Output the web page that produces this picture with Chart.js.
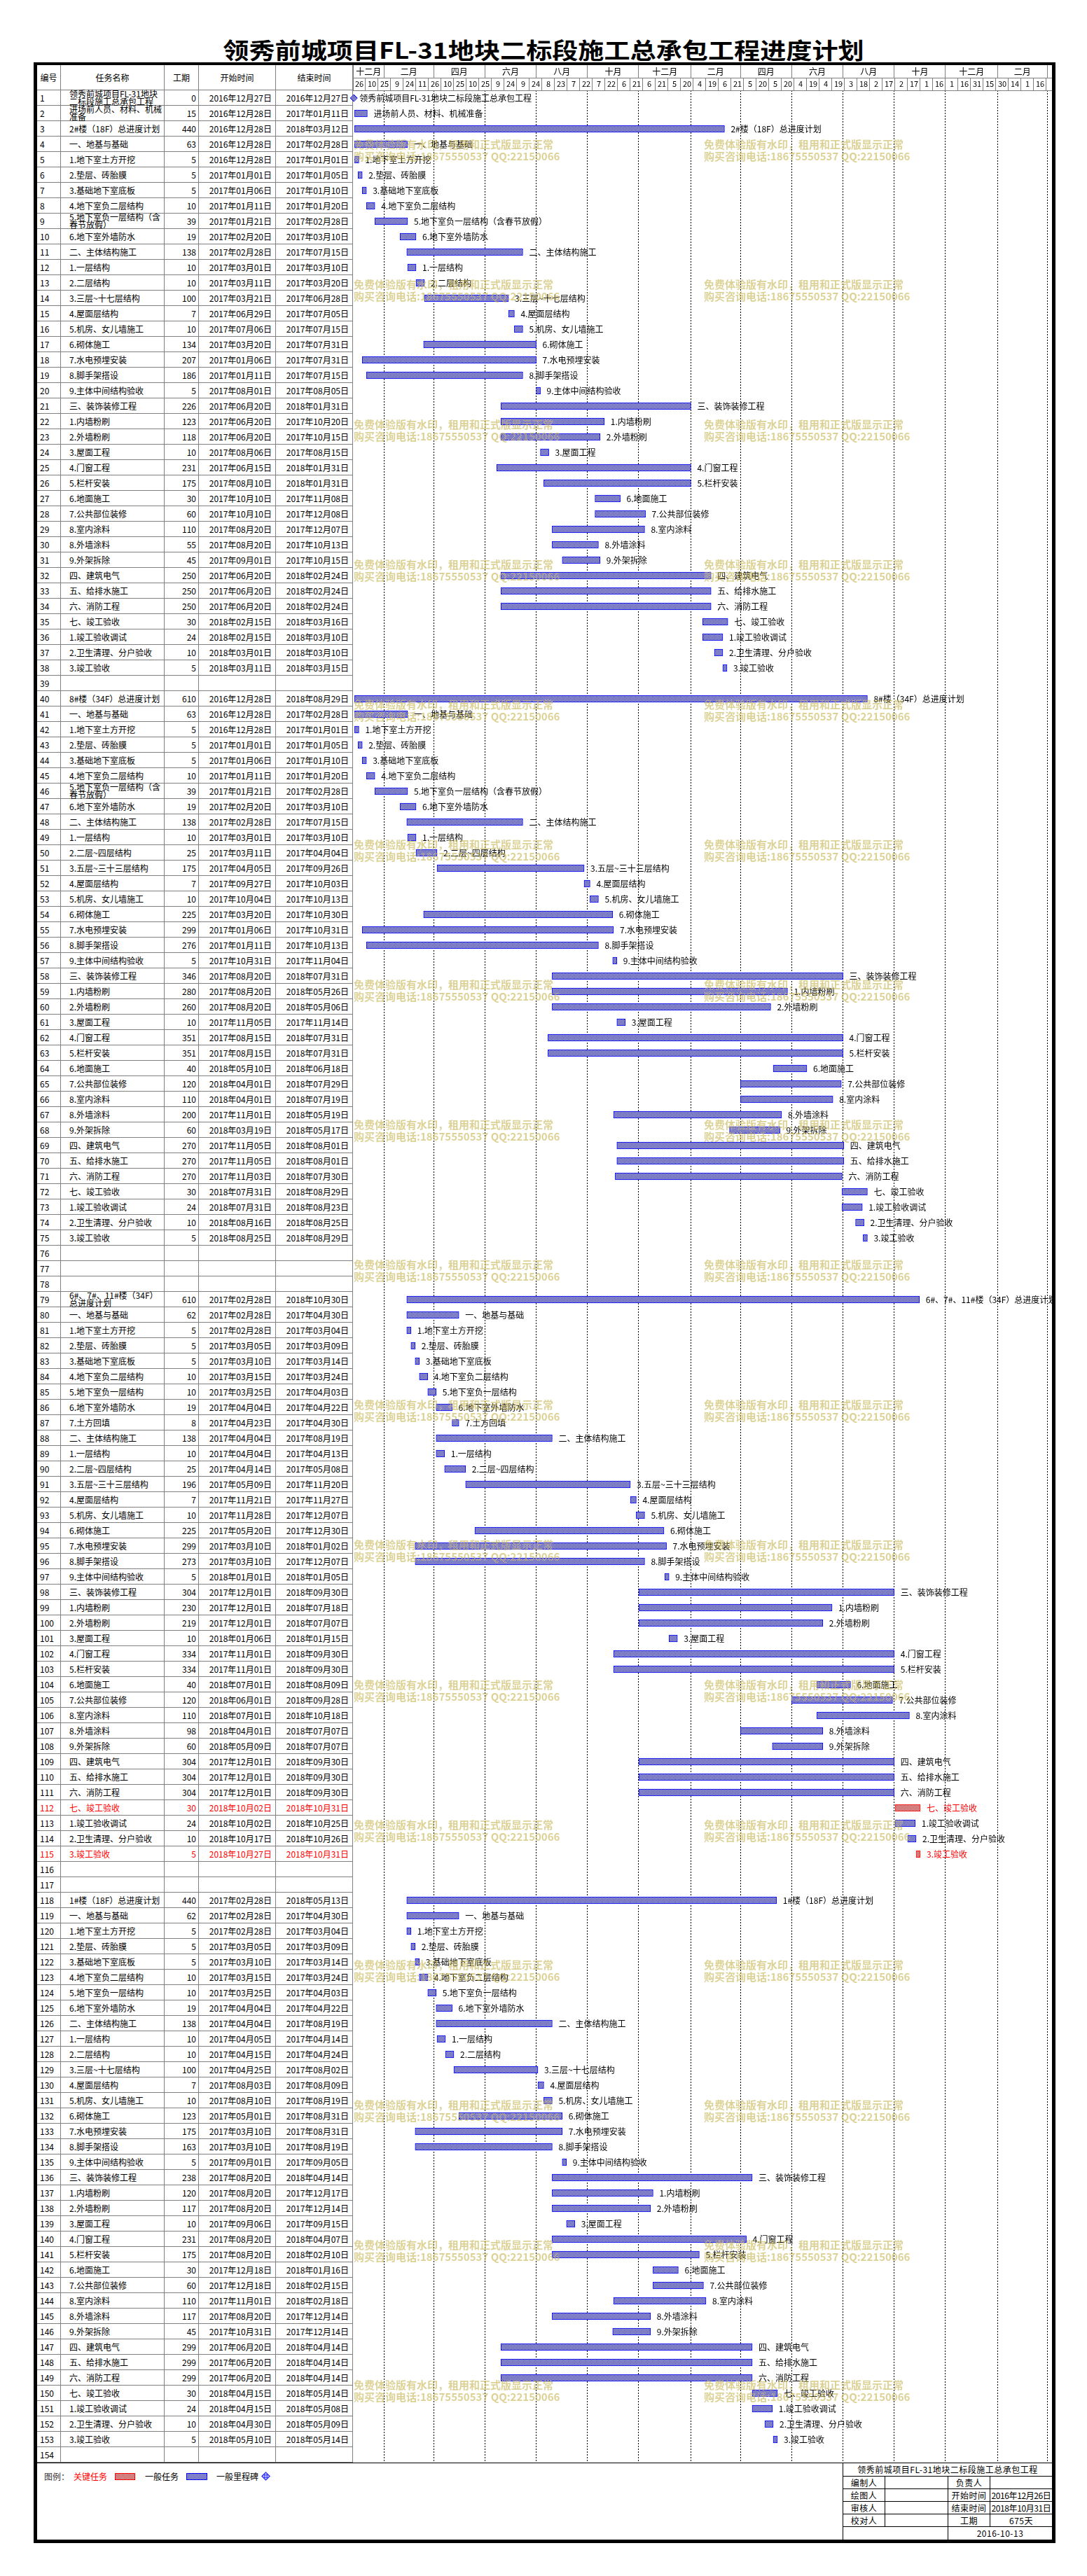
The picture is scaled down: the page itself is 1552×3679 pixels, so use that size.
<!DOCTYPE html>
<html>
<head>
<meta charset="utf-8">
<title>领秀前城项目FL-31地块二标段施工总承包工程进度计划</title>
<script src="https://cdn.jsdelivr.net/npm/chart.js@4.4.1/dist/chart.umd.min.js"></script>
<style>
  body { margin: 0; background: #fff; }
  #page { position: relative; width: 1552px; height: 3679px; overflow: hidden; font-family: "Noto Sans CJK SC", sans-serif; color: #000; }
  #title { position: absolute; left: 0; top: 50px; width: 1552px; text-align: center; font-size: 32px; font-weight: 700; line-height: 40px; transform: scaleX(1.16); }
  #frame { position: absolute; left: 48px; top: 89px; width: 1459px; height: 3543px; box-sizing: border-box; border: 5px solid #000; border-top-width: 4px; }
  #tbl { position: absolute; left: 53px; top: 93px; width: 451px; font-size: 12px; }
  .row { position: absolute; left: 0; width: 451px; height: 22px; box-sizing: border-box; border-bottom: 1px solid #808080; display: flex; }
  .row > div { box-sizing: border-box; height: 100%; border-right: 1px solid #808080; line-height: 21px; white-space: nowrap; }
  .row.head { top: 0; height: 36px; }
  .row.head > div { text-align: center; line-height: 35px; padding: 0; }
  .c0 { width: 34px; padding-left: 4px; }
  .c1 { width: 148px; padding-left: 12px; }
  .c2 { width: 49px; padding-right: 3px; text-align: right; }
  .c3, .c4 { width: 110px; padding-right: 5px; text-align: right; }
  .crit { color: #f00; }
  .c1 .wrap { display: inline-block; white-space: normal; width: 134px; line-height: 10.5px; vertical-align: top; }
  #gantt { position: absolute; left: 494px; top: 93px; }
  .wm { position: absolute; font-size: 15px; font-weight: 700; line-height: 17px; color: rgba(196,180,80,0.6); white-space: nowrap; pointer-events: none; }
  #foot { position: absolute; left: 53px; top: 3517px; width: 1449px; height: 110px; box-sizing: border-box; border-top: 1px solid #000; }
  .lg { position: absolute; top: 3530px; font-size: 12px; line-height: 14px; white-space: nowrap; }
  .sw { position: absolute; top: 3532px; height: 10px; box-sizing: border-box; }
  #info { position: absolute; left: 1203px; top: 3518px; width: 299px; height: 109px; border-left: 1px solid #000; font-size: 12px; }
  #info div { position: absolute; box-sizing: border-box; border-right: 1px solid #000; border-bottom: 1px solid #000; text-align: center; white-space: nowrap; letter-spacing: 0.5px; }
</style>
</head>
<body>
<div id="page">
  <div id="title">领秀前城项目FL-31地块二标段施工总承包工程进度计划</div>
  <div id="frame"></div>
  <div id="tbl"></div>
  <canvas id="gantt" width="1008" height="3424"></canvas>
  <div id="wm"></div>
  <div id="foot"></div>
  <div class="lg" style="left:63px;color:#333">图例：</div>
  <div class="lg" style="left:105px;color:#f00">关键任务</div>
  <div class="sw" style="left:164px;width:29px;border:1px solid #f00;background:repeating-conic-gradient(#f00 0 25%, #fff 0 50%) 0 0/2px 2px"></div>
  <div class="lg" style="left:207px">一般任务</div>
  <div class="sw" style="left:266px;width:30px;border:1px solid #00f;background:repeating-conic-gradient(#00f 0 25%, #fff 0 50%) 0 0/2px 2px"></div>
  <div class="lg" style="left:309px">一般里程碑</div>
  <div style="position:absolute;left:375px;top:3532px;width:9px;height:9px;box-sizing:border-box;border:1px solid #00f;transform:rotate(45deg);background:repeating-conic-gradient(#00f 0 25%, #fff 0 50%) 0 0/2px 2px"></div>
  <div id="info">
    <div style="left:0;top:0;width:299px;height:19px;line-height:18px">领秀前城项目FL-31地块二标段施工总承包工程</div>
    <div style="left:0;top:19px;width:60px;height:18px;line-height:17px">编制人</div>
    <div style="left:60px;top:19px;width:90px;height:18px"></div>
    <div style="left:150px;top:19px;width:60px;height:18px;line-height:17px">负责人</div>
    <div style="left:210px;top:19px;width:89px;height:18px"></div>
    <div style="left:0;top:37px;width:60px;height:18px;line-height:17px">绘图人</div>
    <div style="left:60px;top:37px;width:90px;height:18px"></div>
    <div style="left:150px;top:37px;width:60px;height:18px;line-height:17px">开始时间</div>
    <div style="left:210px;top:37px;width:89px;height:18px;line-height:17px;letter-spacing:-0.4px">2016年12月26日</div>
    <div style="left:0;top:55px;width:60px;height:18px;line-height:17px">审核人</div>
    <div style="left:60px;top:55px;width:90px;height:18px"></div>
    <div style="left:150px;top:55px;width:60px;height:18px;line-height:17px">结束时间</div>
    <div style="left:210px;top:55px;width:89px;height:18px;line-height:17px;letter-spacing:-0.4px">2018年10月31日</div>
    <div style="left:0;top:73px;width:60px;height:18px;line-height:17px">校对人</div>
    <div style="left:60px;top:73px;width:90px;height:18px"></div>
    <div style="left:150px;top:73px;width:60px;height:18px;line-height:17px">工期</div>
    <div style="left:210px;top:73px;width:89px;height:18px;line-height:17px">675天</div>
    <div style="left:0;top:91px;width:150px;height:18px;border-bottom:0"></div>
    <div style="left:150px;top:91px;width:149px;height:18px;line-height:17px;border-bottom:0">2016-10-13</div>
  </div>
</div>

<script>
// ---- task table ----

const taskNames = [
  '领秀前城项目FL-31地块二标段施工总承包工程', '进场前人员、材料、机械准备', '2#楼（18F）总进度计划', '一、地基与基础', '1.地下室土方开挖',
  '2.垫层、砖胎膜', '3.基础地下室底板', '4.地下室负二层结构', '5.地下室负一层结构（含春节放假）', '6.地下室外墙防水',
  '二、主体结构施工', '1.一层结构', '2.二层结构', '3.三层~十七层结构', '4.屋面层结构',
  '5.机房、女儿墙施工', '6.砌体施工', '7.水电预埋安装', '8.脚手架搭设', '9.主体中间结构验收',
  '三、装饰装修工程', '1.内墙粉刷', '2.外墙粉刷', '3.屋面工程', '4.门窗工程',
  '5.栏杆安装', '6.地面施工', '7.公共部位装修', '8.室内涂料', '8.外墙涂料',
  '9.外架拆除', '四、建筑电气', '五、给排水施工', '六、消防工程', '七、竣工验收',
  '1.竣工验收调试', '2.卫生清理、分户验收', '3.竣工验收', '', '8#楼（34F）总进度计划',
  '一、地基与基础', '1.地下室土方开挖', '2.垫层、砖胎膜', '3.基础地下室底板', '4.地下室负二层结构',
  '5.地下室负一层结构（含春节放假）', '6.地下室外墙防水', '二、主体结构施工', '1.一层结构', '2.二层~四层结构',
  '3.五层~三十三层结构', '4.屋面层结构', '5.机房、女儿墙施工', '6.砌体施工', '7.水电预埋安装',
  '8.脚手架搭设', '9.主体中间结构验收', '三、装饰装修工程', '1.内墙粉刷', '2.外墙粉刷',
  '3.屋面工程', '4.门窗工程', '5.栏杆安装', '6.地面施工', '7.公共部位装修',
  '8.室内涂料', '8.外墙涂料', '9.外架拆除', '四、建筑电气', '五、给排水施工',
  '六、消防工程', '七、竣工验收', '1.竣工验收调试', '2.卫生清理、分户验收', '3.竣工验收',
  '', '', '', '6#、7#、11#楼（34F）总进度计划', '一、地基与基础',
  '1.地下室土方开挖', '2.垫层、砖胎膜', '3.基础地下室底板', '4.地下室负二层结构', '5.地下室负一层结构',
  '6.地下室外墙防水', '7.土方回填', '二、主体结构施工', '1.一层结构', '2.二层~四层结构',
  '3.五层~三十三层结构', '4.屋面层结构', '5.机房、女儿墙施工', '6.砌体施工', '7.水电预埋安装',
  '8.脚手架搭设', '9.主体中间结构验收', '三、装饰装修工程', '1.内墙粉刷', '2.外墙粉刷',
  '3.屋面工程', '4.门窗工程', '5.栏杆安装', '6.地面施工', '7.公共部位装修',
  '8.室内涂料', '8.外墙涂料', '9.外架拆除', '四、建筑电气', '五、给排水施工',
  '六、消防工程', '七、竣工验收', '1.竣工验收调试', '2.卫生清理、分户验收', '3.竣工验收',
  '', '', '1#楼（18F）总进度计划', '一、地基与基础', '1.地下室土方开挖',
  '2.垫层、砖胎膜', '3.基础地下室底板', '4.地下室负二层结构', '5.地下室负一层结构', '6.地下室外墙防水',
  '二、主体结构施工', '1.一层结构', '2.二层结构', '3.三层~十七层结构', '4.屋面层结构',
  '5.机房、女儿墙施工', '6.砌体施工', '7.水电预埋安装', '8.脚手架搭设', '9.主体中间结构验收',
  '三、装饰装修工程', '1.内墙粉刷', '2.外墙粉刷', '3.屋面工程', '4.门窗工程',
  '5.栏杆安装', '6.地面施工', '7.公共部位装修', '8.室内涂料', '8.外墙涂料',
  '9.外架拆除', '四、建筑电气', '五、给排水施工', '六、消防工程', '七、竣工验收',
  '1.竣工验收调试', '2.卫生清理、分户验收', '3.竣工验收', ''
];

const durations = [
  0, 15, 440, 63, 5, 5, 5, 10, 39, 19,
  138, 10, 10, 100, 7, 10, 134, 207, 186, 5,
  226, 123, 118, 10, 231, 175, 30, 60, 110, 55,
  45, 250, 250, 250, 30, 24, 10, 5, null, 610,
  63, 5, 5, 5, 10, 39, 19, 138, 10, 25,
  175, 7, 10, 225, 299, 276, 5, 346, 280, 260,
  10, 351, 351, 40, 120, 110, 200, 60, 270, 270,
  270, 30, 24, 10, 5, null, null, null, 610, 62,
  5, 5, 5, 10, 10, 19, 8, 138, 10, 25,
  196, 7, 10, 225, 299, 273, 5, 304, 230, 219,
  10, 334, 334, 40, 120, 110, 98, 60, 304, 304,
  304, 30, 24, 10, 5, null, null, 440, 62, 5,
  5, 5, 10, 10, 19, 138, 10, 10, 100, 7,
  10, 123, 175, 163, 5, 238, 120, 117, 10, 231,
  175, 30, 60, 110, 117, 45, 299, 299, 299, 30,
  24, 10, 5, null
];

const startDates = [
  '2016-12-27', '2016-12-28', '2016-12-28', '2016-12-28', '2016-12-28', '2017-01-01', '2017-01-06', '2017-01-11', '2017-01-21', '2017-02-20',
  '2017-02-28', '2017-03-01', '2017-03-11', '2017-03-21', '2017-06-29', '2017-07-06', '2017-03-20', '2017-01-06', '2017-01-11', '2017-08-01',
  '2017-06-20', '2017-06-20', '2017-06-20', '2017-08-06', '2017-06-15', '2017-08-10', '2017-10-10', '2017-10-10', '2017-08-20', '2017-08-20',
  '2017-09-01', '2017-06-20', '2017-06-20', '2017-06-20', '2018-02-15', '2018-02-15', '2018-03-01', '2018-03-11', null, '2016-12-28',
  '2016-12-28', '2016-12-28', '2017-01-01', '2017-01-06', '2017-01-11', '2017-01-21', '2017-02-20', '2017-02-28', '2017-03-01', '2017-03-11',
  '2017-04-05', '2017-09-27', '2017-10-04', '2017-03-20', '2017-01-06', '2017-01-11', '2017-10-31', '2017-08-20', '2017-08-20', '2017-08-20',
  '2017-11-05', '2017-08-15', '2017-08-15', '2018-05-10', '2018-04-01', '2018-04-01', '2017-11-01', '2018-03-19', '2017-11-05', '2017-11-05',
  '2017-11-03', '2018-07-31', '2018-07-31', '2018-08-16', '2018-08-25', null, null, null, '2017-02-28', '2017-02-28',
  '2017-02-28', '2017-03-05', '2017-03-10', '2017-03-15', '2017-03-25', '2017-04-04', '2017-04-23', '2017-04-04', '2017-04-04', '2017-04-14',
  '2017-05-09', '2017-11-21', '2017-11-28', '2017-05-20', '2017-03-10', '2017-03-10', '2018-01-01', '2017-12-01', '2017-12-01', '2017-12-01',
  '2018-01-06', '2017-11-01', '2017-11-01', '2018-07-01', '2018-06-01', '2018-07-01', '2018-04-01', '2018-05-09', '2017-12-01', '2017-12-01',
  '2017-12-01', '2018-10-02', '2018-10-02', '2018-10-17', '2018-10-27', null, null, '2017-02-28', '2017-02-28', '2017-02-28',
  '2017-03-05', '2017-03-10', '2017-03-15', '2017-03-25', '2017-04-04', '2017-04-04', '2017-04-05', '2017-04-15', '2017-04-25', '2017-08-03',
  '2017-08-10', '2017-05-01', '2017-03-10', '2017-03-10', '2017-09-01', '2017-08-20', '2017-08-20', '2017-08-20', '2017-09-06', '2017-08-20',
  '2017-08-20', '2017-12-18', '2017-12-18', '2017-11-01', '2017-08-20', '2017-10-31', '2017-06-20', '2017-06-20', '2017-06-20', '2018-04-15',
  '2018-04-15', '2018-04-30', '2018-05-10', null
];

const endDates = [
  '2016-12-27', '2017-01-11', '2018-03-12', '2017-02-28', '2017-01-01', '2017-01-05', '2017-01-10', '2017-01-20', '2017-02-28', '2017-03-10',
  '2017-07-15', '2017-03-10', '2017-03-20', '2017-06-28', '2017-07-05', '2017-07-15', '2017-07-31', '2017-07-31', '2017-07-15', '2017-08-05',
  '2018-01-31', '2017-10-20', '2017-10-15', '2017-08-15', '2018-01-31', '2018-01-31', '2017-11-08', '2017-12-08', '2017-12-07', '2017-10-13',
  '2017-10-15', '2018-02-24', '2018-02-24', '2018-02-24', '2018-03-16', '2018-03-10', '2018-03-10', '2018-03-15', null, '2018-08-29',
  '2017-02-28', '2017-01-01', '2017-01-05', '2017-01-10', '2017-01-20', '2017-02-28', '2017-03-10', '2017-07-15', '2017-03-10', '2017-04-04',
  '2017-09-26', '2017-10-03', '2017-10-13', '2017-10-30', '2017-10-31', '2017-10-13', '2017-11-04', '2018-07-31', '2018-05-26', '2018-05-06',
  '2017-11-14', '2018-07-31', '2018-07-31', '2018-06-18', '2018-07-29', '2018-07-19', '2018-05-19', '2018-05-17', '2018-08-01', '2018-08-01',
  '2018-07-30', '2018-08-29', '2018-08-23', '2018-08-25', '2018-08-29', null, null, null, '2018-10-30', '2017-04-30',
  '2017-03-04', '2017-03-09', '2017-03-14', '2017-03-24', '2017-04-03', '2017-04-22', '2017-04-30', '2017-08-19', '2017-04-13', '2017-05-08',
  '2017-11-20', '2017-11-27', '2017-12-07', '2017-12-30', '2018-01-02', '2017-12-07', '2018-01-05', '2018-09-30', '2018-07-18', '2018-07-07',
  '2018-01-15', '2018-09-30', '2018-09-30', '2018-08-09', '2018-09-28', '2018-10-18', '2018-07-07', '2018-07-07', '2018-09-30', '2018-09-30',
  '2018-09-30', '2018-10-31', '2018-10-25', '2018-10-26', '2018-10-31', null, null, '2018-05-13', '2017-04-30', '2017-03-04',
  '2017-03-09', '2017-03-14', '2017-03-24', '2017-04-03', '2017-04-22', '2017-08-19', '2017-04-14', '2017-04-24', '2017-08-02', '2017-08-09',
  '2017-08-19', '2017-08-31', '2017-08-31', '2017-08-19', '2017-09-05', '2018-04-14', '2017-12-17', '2017-12-14', '2017-09-15', '2018-04-07',
  '2018-02-10', '2018-01-16', '2018-02-15', '2018-02-18', '2017-12-14', '2017-12-14', '2018-04-14', '2018-04-14', '2018-04-14', '2018-05-14',
  '2018-05-08', '2018-05-09', '2018-05-14', null
];

const criticalRows = [112, 115];
const milestoneRows = [1];

// ---- timeline header ----

const timeStart = '2016-12-26';
const dayLabels = ['26', '10', '25', '9', '24', '11', '26', '10', '25', '10', '25', '9', '24', '9', '24', '8', '23', '7', '22', '7',
  '22', '6', '21', '6', '21', '5', '20', '4', '19', '6', '21', '5', '20', '5', '20', '4', '19', '4', '19', '3',
  '18', '2', '17', '2', '17', '1', '16', '1', '16', '31', '15', '30', '14', '1', '16'];
const monthLabels = ['十二月', '二月', '四月', '六月', '八月', '十月', '十二月', '二月', '四月', '六月', '八月', '十月', '十二月', '二月'];
const monthBounds = ['2016-12-26', '2017-02-01', '2017-04-01', '2017-06-01', '2017-08-01', '2017-10-01', '2017-12-01', '2018-02-01',
  '2018-04-01', '2018-06-01', '2018-08-01', '2018-10-01', '2018-12-01', '2019-02-01', '2019-04-01'];
const cellDays = 15;
const axisEnd = 831.67;

// ---- helpers ----

const utc = s => Date.UTC(+s.slice(0, 4), +s.slice(5, 7) - 1, +s.slice(8, 10));
const dayOf = s => (utc(s) - utc(timeStart)) / 86400000;
const fmt = s => s ? `${s.slice(0, 4)}年${s.slice(5, 7)}月${s.slice(8, 10)}日` : '';
const rowIds = taskNames.map((_, i) => String(i + 1));

// ---- left table ----

const tbl = document.getElementById('tbl');
const head = document.createElement('div');
head.className = 'row head';
head.innerHTML = '<div class="c0">编号</div><div class="c1">任务名称</div><div class="c2">工期</div><div class="c3">开始时间</div><div class="c4">结束时间</div>';
tbl.appendChild(head);

taskNames.forEach((name, i) => {
  const row = document.createElement('div');
  row.className = 'row' + (criticalRows.includes(i + 1) ? ' crit' : '');
  row.style.top = (36 + 22 * i) + 'px';
  row.innerHTML = `<div class="c0">${i + 1}</div><div class="c1"><span>${name}</span></div>` +
    `<div class="c2">${durations[i] ?? ''}</div><div class="c3">${fmt(startDates[i])}</div><div class="c4">${fmt(endDates[i])}</div>`;
  tbl.appendChild(row);
  const span = row.querySelector('.c1 span');
  if (span.offsetWidth > 134) span.className = 'wrap';
});

// ---- watermark ----

const wm = document.getElementById('wm');
for (let k = 1; k <= 17; k++) {
  [505, 1005].forEach(x => {
    const d = document.createElement('div');
    d.className = 'wm';
    d.style.left = x + 'px';
    d.style.top = (200 * k - 3) + 'px';
    d.innerHTML = '免费体验版有水印，租用和正式版显示正常<br>购买咨询电话:18675550537 QQ:22150066';
    wm.appendChild(d);
  });
}

// ---- gantt ----

function hatch(color) {
  const tile = document.createElement('canvas');
  tile.width = 2; tile.height = 2;
  const g = tile.getContext('2d');
  g.fillStyle = '#fff'; g.fillRect(0, 0, 2, 2);
  g.fillStyle = color; g.fillRect(0, 0, 1, 1); g.fillRect(1, 1, 1, 1);
  return g.createPattern(tile, 'repeat');
}

const barData = startDates.map((s, i) => s && durations[i] > 0 ? [dayOf(s), dayOf(endDates[i]) + 1] : null);
const normalBars = barData.map((b, i) => criticalRows.includes(i + 1) ? null : b);
const criticalBars = barData.map((b, i) => criticalRows.includes(i + 1) ? b : null);
const milestones = milestoneRows.map(r => ({ x: dayOf(startDates[r - 1]), y: rowIds[r - 1] }));

const cellTicks = [], cellText = new Map();
dayLabels.forEach((t, i) => {
  cellTicks.push(cellDays * i, cellDays * i + cellDays / 2);
  cellText.set(cellDays * i + cellDays / 2, t);
});
cellTicks.push(cellDays * dayLabels.length);

const monthDays = monthBounds.map(dayOf);
const monthTicks = [], monthText = new Map();
monthLabels.forEach((t, i) => {
  const mid = (monthDays[i] + monthDays[i + 1]) / 2;
  monthTicks.push(monthDays[i], mid);
  monthText.set(mid, t);
});
monthTicks.push(monthDays[monthDays.length - 1]);

const taskText = {
  id: 'taskText',
  afterDatasetsDraw(chart) {
    const ctx = chart.ctx;
    ctx.save();
    ctx.font = '12px "Noto Sans CJK SC"';
    ctx.textBaseline = 'middle';
    taskNames.forEach((name, i) => {
      const row = i + 1;
      let el, x;
      if (milestoneRows.includes(row)) {
        el = chart.getDatasetMeta(2).data[milestoneRows.indexOf(row)];
        x = el.x + 8;
      } else if (barData[i]) {
        el = chart.getDatasetMeta(criticalRows.includes(row) ? 1 : 0).data[i];
        x = Math.max(el.x, el.base) + 9;
      } else {
        return;
      }
      ctx.fillStyle = criticalRows.includes(row) ? '#f00' : '#000';
      ctx.fillText(name, x, el.y);
    });
    ctx.restore();
  }
};

Chart.defaults.font.family = '"Noto Sans CJK SC", sans-serif';
Chart.defaults.color = '#000';

const bluePat = hatch('#0000ff');
const redPat = hatch('#ff0000');

new Chart(document.getElementById('gantt'), {
  type: 'bar',
  data: {
    labels: rowIds,
    datasets: [
      {
        label: '一般任务', data: normalBars, xAxisID: 'x', yAxisID: 'y',
        backgroundColor: bluePat, borderColor: '#0000ff', borderWidth: 1, borderSkipped: false,
        barThickness: 10, grouped: false
      },
      {
        label: '关键任务', data: criticalBars, xAxisID: 'x', yAxisID: 'y',
        backgroundColor: redPat, borderColor: '#ff0000', borderWidth: 1, borderSkipped: false,
        barThickness: 10, grouped: false
      },
      {
        type: 'scatter', label: '一般里程碑', data: milestones, xAxisID: 'x', yAxisID: 'y',
        pointStyle: 'rectRot', pointRadius: 5, backgroundColor: bluePat, borderColor: '#0000ff', borderWidth: 1,
        clip: false
      }
    ]
  },
  options: {
    indexAxis: 'y',
    responsive: false,
    devicePixelRatio: 1,
    animation: false,
    layout: { padding: { left: 10, right: 0, top: 0, bottom: 0 }, autoPadding: false },
    plugins: { legend: { display: false }, tooltip: { enabled: false } },
    scales: {
      x: {
        type: 'linear', position: 'top', min: 0, max: axisEnd, weight: 1,
        afterBuildTicks: s => { s.ticks = cellTicks.map(v => ({ value: v })); },
        afterFit: s => { s.height = 18; },
        ticks: {
          autoSkip: false, maxRotation: 0, minRotation: 0, padding: -15.6, font: { size: 11 },
          callback: v => cellText.get(v) ?? ''
        },
        grid: {
          drawOnChartArea: false, drawTicks: true, tickLength: 18, tickWidth: 1,
          tickColor: c => cellText.has(c.tick.value) ? 'rgba(0,0,0,0)' : '#808080'
        },
        border: { display: true, color: '#808080', width: 1 }
      },
      xm: {
        type: 'linear', position: 'top', min: 0, max: axisEnd, weight: 2,
        afterBuildTicks: s => { s.ticks = monthTicks.map(v => ({ value: v })); },
        afterFit: s => { s.height = 18; },
        ticks: {
          autoSkip: false, maxRotation: 0, minRotation: 0, padding: -16.2, font: { size: 12 },
          callback: v => monthText.get(v) ?? ''
        },
        grid: {
          drawOnChartArea: false, drawTicks: true, tickLength: 18, tickWidth: 1,
          tickColor: c => monthText.has(c.tick.value) ? 'rgba(0,0,0,0)' : '#808080'
        },
        border: { display: true, color: '#808080', width: 1 }
      },
      xg: {
        type: 'linear', position: 'top', min: 0, max: axisEnd, weight: 0,
        afterBuildTicks: s => { s.ticks = monthDays.map(v => ({ value: v })); },
        afterFit: s => { s.height = 0; },
        ticks: { display: false },
        grid: {
          drawOnChartArea: true, drawTicks: false, lineWidth: 1,
          color: c => c.tick.value === 0 ? 'rgba(0,0,0,0)' : '#000'
        },
        border: { display: false, dash: [2, 2] }
      },
      y: {
        type: 'category', display: false, offset: true,
        grid: { display: false }
      }
    }
  },
  plugins: [taskText]
});
</script>
</body>
</html>
